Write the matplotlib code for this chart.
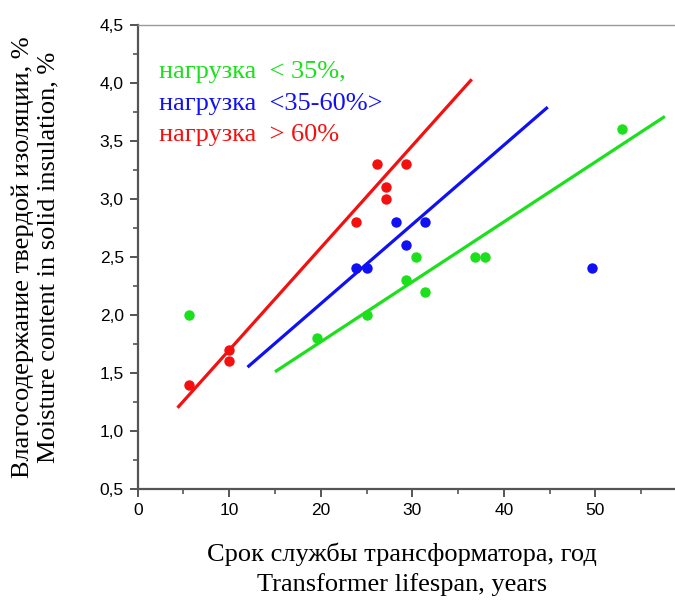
import matplotlib.pyplot as plt
from matplotlib.ticker import MultipleLocator, FuncFormatter

# load < 35 %
green_x = [5.6, 19.6, 25.0, 29.3, 30.4, 31.4, 36.8, 37.9, 52.9]
green_y = [2.0, 1.8, 2.0, 2.3, 2.5, 2.2, 2.5, 2.5, 3.6]
# load 35-60 %
blue_x = [23.9, 25.0, 28.2, 29.3, 31.4, 49.6]
blue_y = [2.4, 2.4, 2.8, 2.6, 2.8, 2.4]
# load > 60 %
red_x = [5.6, 10.0, 10.0, 23.9, 26.1, 27.1, 27.1, 29.3]
red_y = [1.4, 1.7, 1.6, 2.8, 3.3, 3.1, 3.0, 3.3]

# trend lines (end points)
green_fit_x = [15.0, 57.6]
green_fit_y = [1.51, 3.71]
blue_fit_x = [12.0, 44.8]
blue_fit_y = [1.55, 3.79]
red_fit_x = [4.35, 36.5]
red_fit_y = [1.20, 4.03]

legend_lines = ["нагрузка  < 35%,", "нагрузка  <35-60%>", "нагрузка  > 60%"]

GREEN = "#1be01b"
BLUE = "#1010f5"
RED = "#f51010"

fig = plt.figure(figsize=(6.75, 6.03), dpi=100)
ax = fig.add_axes([0.204, 0.189, 0.80, 0.77])

ax.plot(green_fit_x, green_fit_y, color=GREEN, lw=2.3, solid_capstyle="butt")
ax.plot(blue_fit_x, blue_fit_y, color=BLUE, lw=2.3, solid_capstyle="butt")
ax.plot(red_fit_x, red_fit_y, color=RED, lw=2.3, solid_capstyle="butt")

ax.plot(green_x, green_y, "o", color=GREEN, ms=7.5, mec="none")
ax.plot(blue_x, blue_y, "o", color=BLUE, ms=7.5, mec="none")
ax.plot(red_x, red_y, "o", color=RED, ms=7.5, mec="none")

ax.set_xlim(0, 59)
ax.set_ylim(0.5, 4.5)
ax.xaxis.set_major_locator(MultipleLocator(10))
ax.xaxis.set_minor_locator(MultipleLocator(5))
ax.yaxis.set_major_locator(MultipleLocator(0.5))
ax.yaxis.set_minor_locator(MultipleLocator(0.25))
ax.yaxis.set_major_formatter(FuncFormatter(lambda v, p: f"{v:.1f}".replace(".", ",")))

for s in ["left", "bottom"]:
    ax.spines[s].set_color("#555555")
    ax.spines[s].set_linewidth(1.6)
ax.spines["right"].set_visible(False)
ax.spines["top"].set_color("#999999")
ax.spines["top"].set_linewidth(1.0)

ax.tick_params(which="major", direction="out", length=6, width=1.4, color="#555555",
               labelsize=12.5, labelfontfamily="Liberation Sans", pad=4)
ax.tick_params(which="minor", direction="out", length=3.5, width=1.2, color="#555555")

ax.set_xlabel("Срок службы трансформатора, год\nTransformer lifespan, years",
              family="Liberation Serif", fontsize=19, labelpad=20, linespacing=1.38)
ax.xaxis.set_label_coords(0.49, -0.115, transform=ax.transAxes)
ax.xaxis.label.set_va("top")
ax.set_ylabel("Влагосодержание твердой изоляции, %\nMoisture content in solid insulation, %",
              family="Liberation Serif", fontsize=19, labelpad=29, linespacing=1.22)

for i, (txt, c) in enumerate(zip(legend_lines, [GREEN, BLUE, RED])):
    ax.text(2.3, 4.09 - i * 0.27, txt, color=c, family="Liberation Serif",
            fontsize=19, va="center", ha="left")

fig.savefig("out.png", dpi=100)
